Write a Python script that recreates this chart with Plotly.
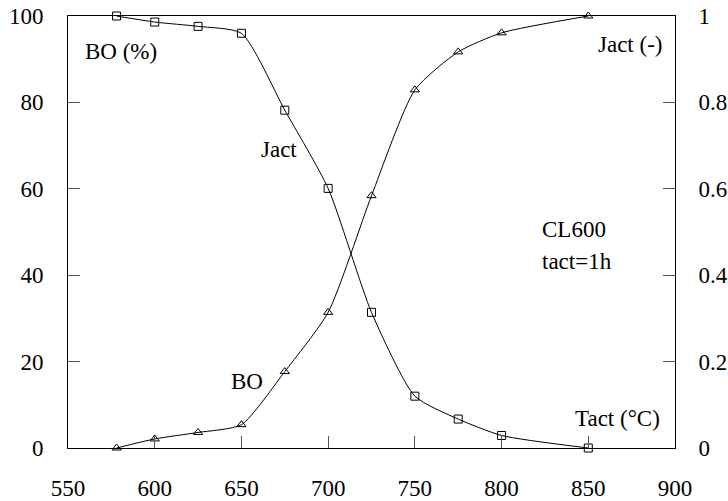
import plotly.graph_objects as go

# Activation temperature (°C)
tact = [578, 600, 625, 650, 675, 700, 725, 750, 775, 800, 850]
# Burn-off (%) -- left axis
bo = [0.0, 2.1, 3.6, 5.4, 17.7, 31.4, 58.4, 82.9, 91.7, 96.1, 100.0]
# Activation index Jact (-) -- right axis
jact = [1.0, 0.986, 0.976, 0.96, 0.782, 0.601, 0.314, 0.12, 0.067, 0.029, 0.0]

x_ticks = [550, 600, 650, 700, 750, 800, 850, 900]
y1_ticks = [0, 20, 40, 60, 80, 100]
y2_ticks = [0, 0.2, 0.4, 0.6, 0.8, 1]
y2_labels = ["0", "0.2", "0.4", "0.6", "0.8", "1"]

FONT = "Liberation Serif"
FS = 23

fig = go.Figure()
fig.add_trace(go.Scatter(
    x=tact, y=bo, mode="lines+markers", name="BO",
    line=dict(color="black", width=1, shape="spline", smoothing=0.6),
    marker=dict(symbol="triangle-up-open", size=8, color="black", line=dict(width=1)),
    cliponaxis=False,
))
fig.add_trace(go.Scatter(
    x=tact, y=jact, mode="lines+markers", name="Jact", yaxis="y2",
    line=dict(color="black", width=1, shape="spline", smoothing=0.6),
    marker=dict(symbol="square-open", size=8, color="black", line=dict(width=1)),
    cliponaxis=False,
))

axis_common = dict(
    showgrid=False, zeroline=False, showline=True, linecolor="black", linewidth=1,
    ticks="inside", ticklen=12, tickwidth=1, tickcolor="#555555",
    tickfont=dict(family=FONT, size=FS, color="black"),
    automargin=False,
)

fig.update_layout(
    width=728, height=501,
    margin=dict(l=68, r=53, t=16, b=53),
    paper_bgcolor="white", plot_bgcolor="white",
    showlegend=False,
    font=dict(family=FONT, size=FS, color="black"),
    xaxis=dict(range=[550, 900], tickvals=x_ticks, mirror=True,
               ticklabelstandoff=19, **axis_common),
    yaxis=dict(range=[0, 100], tickvals=y1_ticks, ticklabelstandoff=19,
               **axis_common),
    yaxis2=dict(range=[0, 1], tickvals=y2_ticks, ticktext=y2_labels,
                overlaying="y", side="right", ticklabelstandoff=18,
                **axis_common),
)

notes = [
    ("BO (%)", 580.6, 91.7, "center"),
    ("Jact (-)", 874.6, 93.3, "center"),
    ("Jact", 671.7, 69.2, "center"),
    ("BO", 653.2, 15.5, "center"),
    ("CL600", 822.2, 50.5, "left"),
    ("tact=1h", 822.2, 43.1, "left"),
    ("Tact (°C)", 867.1, 6.9, "center"),
]
for text, x, y, anchor in notes:
    fig.add_annotation(x=x, y=y, xref="x", yref="y", text=text, showarrow=False,
                       xanchor=anchor, yanchor="middle",
                       font=dict(family=FONT, size=FS, color="black"))

fig.write_html("out.html")
